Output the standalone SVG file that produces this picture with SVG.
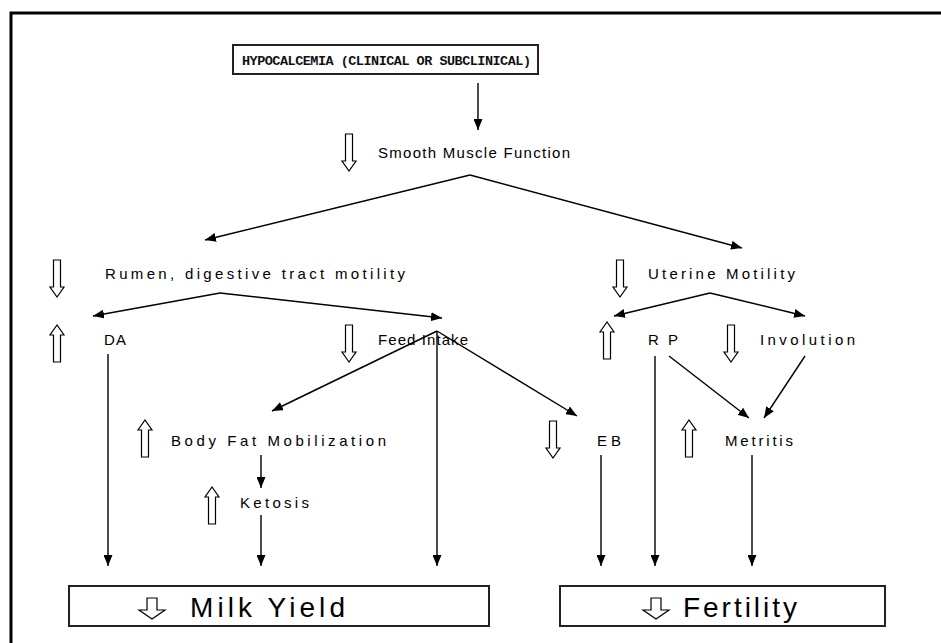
<svg xmlns="http://www.w3.org/2000/svg" width="941" height="643" viewBox="0 0 941 643">
<defs>
<style>
.lbl{font-family:"Liberation Sans",Arial,sans-serif;font-size:15px;fill:#000}
.big{font-family:"Liberation Sans",Arial,sans-serif;font-size:28px;fill:#000}
.ttl{font-family:"Liberation Mono","Courier New",monospace;font-size:13.5px;font-weight:bold;fill:#111}
.box{fill:#fff;stroke:#222;stroke-width:2}
.hol{fill:#fff;stroke:#000;stroke-width:1.2}
.con line{stroke:#000;stroke-width:1.4;marker-end:url(#ah)}
</style>
<marker id="ah" markerUnits="userSpaceOnUse" markerWidth="11" markerHeight="9" refX="11" refY="4.5" orient="auto">
<path d="M0,0 L11,4.5 L0,9 z" fill="#000"/>
</marker>
<path id="dn" d="M-3.5,0 H3.5 V27 H7 L0,37 L-7,27 H-3.5 Z"/>
<path id="up" d="M-3.5,37 H3.5 V10 H7 L0,0 L-7,10 H-3.5 Z"/>
</defs>
<rect width="941" height="643" fill="#fff"/>
<path d="M11,643 V13 H941" fill="none" stroke="#000" stroke-width="3"/>

<g id="hypocalcemia">
<rect class="box" x="233" y="45" width="305" height="29"/>
<text class="ttl" x="242" y="65" textLength="289" lengthAdjust="spacing">HYPOCALCEMIA (CLINICAL OR SUBCLINICAL)</text>
</g>
<g id="smooth"><use href="#dn" class="hol" x="349" y="134"/><text class="lbl" x="378" y="158" textLength="192" lengthAdjust="spacing">Smooth Muscle Function</text></g>
<g id="rumen"><use href="#dn" class="hol" x="57" y="260"/><text class="lbl" x="105" y="279" textLength="300" lengthAdjust="spacing">Rumen, digestive tract motility</text></g>
<g id="uterine"><use href="#dn" class="hol" x="620" y="260"/><text class="lbl" x="648" y="279" textLength="147" lengthAdjust="spacing">Uterine Motility</text></g>
<g id="da"><use href="#up" class="hol" x="57" y="325"/><text class="lbl" x="104" y="345" textLength="22" lengthAdjust="spacing">DA</text></g>
<g id="feed"><use href="#dn" class="hol" x="349" y="325"/><text class="lbl" x="378" y="345" textLength="90" lengthAdjust="spacing">Feed Intake</text></g>
<g id="rp"><use href="#up" class="hol" x="607" y="322"/><text class="lbl" x="648" y="345" textLength="30" lengthAdjust="spacing">RP</text></g>
<g id="involution"><use href="#dn" class="hol" x="731" y="325"/><text class="lbl" x="760" y="345" textLength="95" lengthAdjust="spacing">Involution</text></g>
<g id="bodyfat"><use href="#up" class="hol" x="145" y="420"/><text class="lbl" x="171" y="446" textLength="215" lengthAdjust="spacing">Body Fat Mobilization</text></g>
<g id="eb"><use href="#dn" class="hol" x="553" y="421"/><text class="lbl" x="597" y="446" textLength="24" lengthAdjust="spacing">EB</text></g>
<g id="metritis"><use href="#up" class="hol" x="689" y="420"/><text class="lbl" x="725" y="446" textLength="68" lengthAdjust="spacing">Metritis</text></g>
<g id="ketosis"><use href="#up" class="hol" x="212" y="487"/><text class="lbl" x="240" y="508" textLength="69" lengthAdjust="spacing">Ketosis</text></g>

<g id="milk">
<rect class="box" x="69" y="586" width="420" height="40"/>
<path class="hol" d="M147,598 H157 V610 H165 L152,619 L139,610 H147 Z"/>
<text class="big" x="190" y="617" textLength="155" lengthAdjust="spacing">Milk Yield</text>
</g>
<g id="fertility">
<rect class="box" x="560" y="586" width="325" height="40"/>
<path class="hol" d="M651,598 H661 V610 H669 L656,619 L643,610 H651 Z"/>
<text class="big" x="683" y="617" textLength="114" lengthAdjust="spacing">Fertility</text>
</g>

<g id="connectors" class="con">
<line x1="478" y1="83" x2="478" y2="130"/>
<line x1="470" y1="175" x2="205" y2="240"/>
<line x1="470" y1="175" x2="742" y2="248"/>
<line x1="220" y1="293" x2="93" y2="316"/>
<line x1="220" y1="293" x2="442" y2="318"/>
<line x1="710" y1="293" x2="614" y2="316"/>
<line x1="710" y1="293" x2="805" y2="316"/>
<line x1="437" y1="331" x2="272" y2="411"/>
<line x1="437" y1="331" x2="577" y2="416"/>
<line x1="437" y1="331" x2="437" y2="566"/>
<line x1="108" y1="354" x2="108" y2="566"/>
<line x1="655" y1="356" x2="655" y2="566"/>
<line x1="669" y1="356" x2="749" y2="418"/>
<line x1="805" y1="356" x2="764" y2="418"/>
<line x1="261" y1="455" x2="261" y2="488"/>
<line x1="261" y1="515" x2="261" y2="566"/>
<line x1="601" y1="455" x2="601" y2="566"/>
<line x1="752" y1="455" x2="752" y2="566"/>
</g>
</svg>
